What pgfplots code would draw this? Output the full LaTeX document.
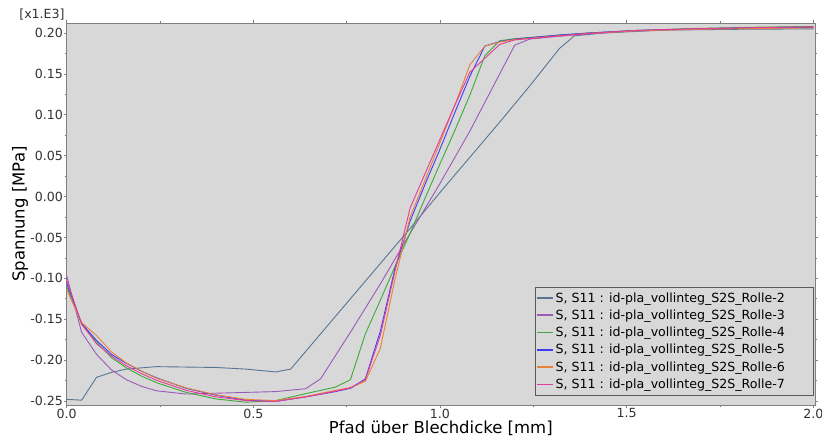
\documentclass[border=0pt]{standalone}
\usepackage{fontspec}
\setmainfont{DejaVu Sans}
\usepackage{pgfplots}
\pgfplotsset{compat=1.18}
\definecolor{bg}{RGB}{216,216,216}
\definecolor{frame}{RGB}{128,128,128}
\definecolor{cR2}{RGB}{88,118,148}
\definecolor{cR3}{RGB}{155,90,185}
\definecolor{cR4}{RGB}{60,170,60}
\definecolor{cR5}{RGB}{60,60,250}
\definecolor{cR6}{RGB}{230,130,60}
\definecolor{cR7}{RGB}{230,60,150}
\begin{document}
\begin{tikzpicture}
\useasboundingbox (0pt,0pt) rectangle (822pt,439pt);
\begin{axis}[
  at={(66.7pt,34pt)}, anchor=south west,
  width=748.3pt, height=382pt, scale only axis,
  xmin=0, xmax=2.0046, ymin=-0.2549, ymax=0.2122,
  axis background/.style={fill=bg},
  axis line style={frame, line width=0.8pt},
  xtick={0,0.5,1,1.5,2}, ytick={-0.25,-0.2,-0.15,-0.1,-0.05,0,0.05,0.1,0.15,0.2},
  minor x tick num=1, minor y tick num=1,
  tick align=outside, major tick length=3pt, minor tick length=2pt,
  tick style={frame, line width=0.6pt},
  scaled ticks=false,
  /pgf/number format/assume math mode=true,
  xticklabel style={/pgf/number format/.cd, fixed, fixed zerofill, precision=1, /tikz/.cd, font=\fontsize{12.6}{15}\selectfont, text=black!80, inner sep=0.5pt},
  yticklabel style={/pgf/number format/.cd, fixed, fixed zerofill, precision=2, /tikz/.cd, font=\fontsize{12.6}{15}\selectfont, text=black!80, inner sep=0.5pt},
  xlabel={Pfad über Blechdicke [mm]},
  ylabel={Spannung [MPa]},
  xlabel style={at={(axis description cs:0.5,-0.0605)}, anchor=center, font=\fontsize{16.5}{19}\selectfont},
  ylabel style={at={(axis description cs:-0.0624,0.5)}, anchor=center, font=\fontsize{16.5}{19}\selectfont},
  legend cell align=left,
  legend image code/.code={\draw[#1, line width=1.5pt] (0pt,0pt) -- (16pt,0pt);},
  legend style={at={(axis description cs:0.9975,0.026)}, anchor=south east,
    draw=frame!70!black, fill=bg, font=\fontsize{12.6}{15}\selectfont,
    row sep=2.2pt, inner xsep=1pt, inner ysep=3pt},
  every axis plot/.append style={line width=0.9pt},
]
\addplot[draw=cR2] coordinates {
(0,-0.248) (0.04,-0.249) (0.08,-0.221) (0.12,-0.215) (0.16,-0.211) (0.24,-0.208)
(0.32,-0.2085) (0.40,-0.209) (0.48,-0.211) (0.56,-0.2145) (0.60,-0.211) (0.68,-0.168)
(0.76,-0.125) (0.84,-0.082) (0.92,-0.039) (1.00,0.005) (1.08,0.048) (1.16,0.091)
(1.24,0.135) (1.32,0.181) (1.36,0.1965) (1.44,0.2) (1.60,0.2035) (1.80,0.2045) (2.00,0.205)};
\addlegendentry{S, S11 : id-pla\_vollinteg\_S2S\_Rolle-2\hspace*{25pt}}
\addplot[draw=cR3] coordinates {
(0,-0.097) (0.04,-0.166) (0.08,-0.193) (0.12,-0.212) (0.16,-0.224) (0.20,-0.232)
(0.24,-0.2375) (0.32,-0.2415) (0.40,-0.2405) (0.48,-0.2395) (0.56,-0.2385) (0.64,-0.235)
(0.68,-0.223) (0.76,-0.166) (0.84,-0.107) (0.92,-0.045) (1.00,0.016) (1.08,0.080)
(1.16,0.150) (1.20,0.185) (1.24,0.1925) (1.32,0.196) (1.40,0.199) (1.52,0.2025)
(1.68,0.2045) (1.84,0.2058) (2.00,0.2068)};
\addlegendentry{S, S11 : id-pla\_vollinteg\_S2S\_Rolle-3\hspace*{25pt}}
\addplot[draw=cR4] coordinates {
(0,-0.110) (0.04,-0.156) (0.08,-0.178) (0.12,-0.197) (0.16,-0.2095) (0.20,-0.2195)
(0.24,-0.2275) (0.32,-0.2395) (0.40,-0.2475) (0.48,-0.2515) (0.56,-0.2495) (0.64,-0.241)
(0.72,-0.233) (0.76,-0.224) (0.80,-0.168) (0.84,-0.127) (0.88,-0.085) (0.92,-0.045)
(0.96,-0.002) (1.00,0.040) (1.04,0.081) (1.08,0.124) (1.12,0.172) (1.16,0.1905)
(1.20,0.193) (1.32,0.1975) (1.40,0.2) (1.52,0.203) (1.68,0.2055) (1.84,0.207) (2.00,0.208)};
\addlegendentry{S, S11 : id-pla\_vollinteg\_S2S\_Rolle-4\hspace*{25pt}}
\addplot[draw=cR5] coordinates {
(0,-0.106) (0.04,-0.155) (0.08,-0.176) (0.12,-0.193) (0.16,-0.204) (0.20,-0.2135)
(0.24,-0.2215) (0.32,-0.2345) (0.40,-0.243) (0.48,-0.249) (0.56,-0.2505) (0.64,-0.245)
(0.72,-0.2385) (0.76,-0.2345) (0.80,-0.223) (0.84,-0.165) (0.88,-0.087) (0.92,-0.030)
(0.96,0.015) (1.00,0.058) (1.04,0.103) (1.08,0.147) (1.12,0.184) (1.16,0.1895)
(1.20,0.1925) (1.32,0.1975) (1.40,0.2) (1.52,0.203) (1.68,0.205) (1.84,0.2063) (2.00,0.2072)};
\addlegendentry{S, S11 : id-pla\_vollinteg\_S2S\_Rolle-5\hspace*{25pt}}
\addplot[draw=cR6] coordinates {
(0,-0.114) (0.04,-0.154) (0.08,-0.170) (0.12,-0.190) (0.16,-0.2035) (0.20,-0.2135)
(0.24,-0.222) (0.32,-0.234) (0.40,-0.2425) (0.48,-0.248) (0.56,-0.2495) (0.64,-0.2445)
(0.72,-0.237) (0.76,-0.2335) (0.80,-0.226) (0.84,-0.186) (0.88,-0.100) (0.92,-0.025)
(0.96,0.020) (1.00,0.066) (1.04,0.112) (1.08,0.161) (1.12,0.184) (1.16,0.189)
(1.20,0.192) (1.32,0.1965) (1.40,0.1995) (1.52,0.2025) (1.68,0.2045) (1.84,0.2055) (2.00,0.2062)};
\addlegendentry{S, S11 : id-pla\_vollinteg\_S2S\_Rolle-6\hspace*{25pt}}
\addplot[draw=cR7] coordinates {
(0,-0.102) (0.04,-0.156) (0.08,-0.180) (0.12,-0.195) (0.16,-0.207) (0.20,-0.2165)
(0.24,-0.2245) (0.32,-0.237) (0.40,-0.245) (0.48,-0.2495) (0.56,-0.2505) (0.64,-0.245)
(0.72,-0.238) (0.76,-0.234) (0.80,-0.224) (0.84,-0.170) (0.88,-0.090) (0.92,-0.014)
(0.96,0.028) (1.00,0.070) (1.04,0.112) (1.08,0.152) (1.12,0.169) (1.16,0.186)
(1.20,0.1915) (1.32,0.1965) (1.40,0.1995) (1.52,0.203) (1.68,0.2052) (1.84,0.2065) (2.00,0.2075)};
\addlegendentry{S, S11 : id-pla\_vollinteg\_S2S\_Rolle-7\hspace*{25pt}}
\end{axis}
\node[font=\fontsize{12.6}{15}\selectfont, text=black!80] at (42pt,424pt) {[x1.E3]};
\end{tikzpicture}
\end{document}
